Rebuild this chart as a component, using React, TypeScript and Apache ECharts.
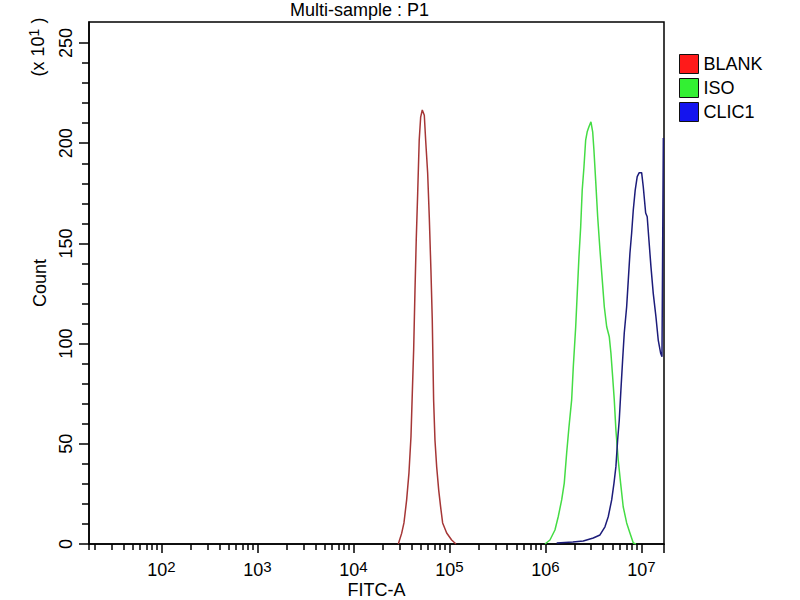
import React, { useEffect, useRef } from "react";
import * as echarts from "echarts";

const FONT = "'Liberation Sans', Arial, Helvetica, sans-serif";

// Axis ranges (x in log10 of FITC-A intensity, y in counts x10^1)
const xMin = 1.245;
const xMax = 7.235;
const yMin = 0;
const yMax = 260.5;

const xMajorExponents = [2, 3, 4, 5, 6, 7];
const yMajorTicks = [0, 50, 100, 150, 200, 250];
const yMinorTicks = [10, 20, 30, 40, 60, 70, 80, 90, 110, 120, 130, 140, 160, 170, 180, 190, 210, 220, 230, 240];

const seriesNames = ["BLANK", "ISO", "CLIC1"];
const lineColors = ["#a53636", "#44dc44", "#1c1c7a"];
const legendColors = ["#ff1a1a", "#33f033", "#1414ee"];

// BLANK histogram
const blankLogX = [4.467, 4.502, 4.526, 4.554, 4.578, 4.599, 4.613, 4.627, 4.641, 4.654, 4.669, 4.685, 4.700, 4.717, 4.738, 4.752, 4.773, 4.790, 4.807, 4.821, 4.835, 4.849, 4.867, 4.888, 4.908, 4.929, 4.971, 5.023, 5.068];
const blankCount = [0, 5.3, 10.5, 22, 35.4, 53.4, 75.3, 96.8, 126.7, 151.7, 175, 201.6, 213, 216.6, 214, 201.6, 185, 163, 136.7, 111.8, 71.9, 51.9, 38.4, 26.9, 18.5, 10.5, 5.5, 2, 0];

// ISO histogram
const isoLogX = [5.995, 6.047, 6.099, 6.133, 6.169, 6.196, 6.221, 6.245, 6.273, 6.290, 6.315, 6.328, 6.349, 6.367, 6.383, 6.401, 6.419, 6.435, 6.453, 6.474, 6.492, 6.505, 6.523, 6.544, 6.568, 6.592, 6.613, 6.638, 6.665, 6.682, 6.700, 6.717, 6.734, 6.758, 6.783, 6.810, 6.846, 6.880, 6.915, 6.943];
const isoCount = [0, 2, 7, 13.6, 22, 30.4, 45.4, 58.4, 71.9, 88.3, 108.3, 121.8, 143.2, 158.2, 176.6, 188, 201.6, 205.7, 208.2, 210.7, 205.7, 196.6, 181.6, 163.3, 146.7, 131.7, 118.4, 108.4, 103.4, 95.3, 83.5, 71.9, 56.9, 41.9, 30.4, 18.6, 10.5, 5.5, 0.5, 0];

// CLIC1 histogram (last bin piles up at the top of the scale)
const clicLogX = [6.117, 6.286, 6.394, 6.498, 6.568, 6.620, 6.654, 6.690, 6.714, 6.734, 6.752, 6.769, 6.786, 6.804, 6.821, 6.846, 6.863, 6.880, 6.898, 6.915, 6.935, 6.956, 6.977, 7.002, 7.019, 7.044, 7.060, 7.078, 7.099, 7.123, 7.151, 7.175, 7.200, 7.214, 7.228];
const clicCount = [0.5, 1, 1.5, 3, 4.5, 8.6, 13.6, 22, 30.4, 38.6, 51.9, 61.9, 76.8, 91.8, 105.3, 118.4, 131.7, 145, 155.2, 166.7, 176.6, 183.3, 185.3, 185.3, 178.3, 165.2, 163.3, 151.7, 138.4, 125.1, 113.4, 101.8, 95.2, 93.5, 202.6];

const xData = [blankLogX, isoLogX, clicLogX];
const yData = [blankCount, isoCount, clicCount];

function minorLogTicks(): number[] {
  const out: number[] = [xMin + 0.002];
  for (let d = 1; d <= 7; d++) {
    for (let k = 2; k <= 9; k++) {
      const v = d + Math.log10(k);
      if (v > xMin + 0.01 && v < xMax) out.push(v);
    }
  }
  return out;
}

export default function App() {
  const ref = useRef<HTMLDivElement>(null);

  useEffect(() => {
    if (!ref.current) return;
    const chart = echarts.init(ref.current, undefined, { renderer: "svg" });

    const series = seriesNames.map((name, i) => ({
      name,
      type: "line",
      xAxisIndex: 0,
      yAxisIndex: 0,
      symbol: "none",
      data: xData[i].map((x, j) => [x, yData[i][j]]),
      lineStyle: { color: lineColors[i], width: 1.5 },
      itemStyle: { color: lineColors[i] },
    }));

    const axisLine = { show: true, onZero: false, lineStyle: { color: "#000", width: 1.5 } };

    chart.setOption({
      animation: false,
      backgroundColor: "#fff",
      textStyle: { fontFamily: FONT },
      title: {
        text: "Multi-sample : P1",
        left: 290,
        top: 1,
        padding: 0,
        textStyle: { fontSize: 18, fontWeight: "normal", color: "#000", fontFamily: FONT, lineHeight: 18 },
      },
      legend: {
        orient: "vertical",
        left: 679,
        top: 54,
        padding: 0,
        itemWidth: 19,
        itemHeight: 19,
        itemGap: 4,
        icon: "rect",
        textStyle: { fontSize: 18, color: "#000", fontFamily: FONT },
        data: seriesNames.map((name, i) => ({
          name,
          itemStyle: { color: legendColors[i], borderColor: "#111", borderWidth: 1 },
        })),
      },
      grid: {
        left: 89,
        right: 136,
        top: 22,
        bottom: 56,
        containLabel: false,
        outerBoundsMode: "none",
        show: true,
        borderColor: "#000",
        borderWidth: 1.5,
        backgroundColor: "transparent",
      },
      xAxis: [
        {
          type: "value",
          min: xMin,
          max: xMax,
          position: "bottom",
          name: "FITC-A",
          nameLocation: "middle",
          nameGap: 37,
          nameMoveOverlap: false,
          nameTextStyle: { fontSize: 18, color: "#000", fontFamily: FONT, lineHeight: 17 },
          axisLine,
          splitLine: { show: false },
          axisTick: {
            show: true,
            length: 9,
            customValues: [...xMajorExponents, xMax - 0.002],
            lineStyle: { color: "#000", width: 1.5 },
          },
          axisLabel: {
            show: true,
            customValues: xMajorExponents,
            margin: 15,
            formatter: (v: number) => `{b|10}{s|${Math.round(v)}}`,
            rich: {
              b: { fontSize: 18, color: "#000", fontFamily: FONT, lineHeight: 22 },
              s: { fontSize: 15, color: "#000", fontFamily: FONT, verticalAlign: "top", lineHeight: 12 },
            },
          },
        },
        {
          type: "value",
          min: xMin,
          max: xMax,
          position: "bottom",
          axisLine: { show: false, onZero: false },
          splitLine: { show: false },
          axisLabel: { show: false },
          axisTick: {
            show: true,
            length: 6,
            customValues: minorLogTicks(),
            lineStyle: { color: "#000", width: 1.5 },
          },
        },
      ],
      yAxis: [
        {
          type: "value",
          min: yMin,
          max: yMax,
          position: "left",
          name: "Count",
          nameLocation: "middle",
          nameGap: 40,
          nameMoveOverlap: false,
          nameRotate: 90,
          nameTextStyle: { fontSize: 18, color: "#000", fontFamily: FONT },
          axisLine,
          splitLine: { show: false },
          axisTick: {
            show: true,
            length: 10,
            customValues: yMajorTicks,
            lineStyle: { color: "#000", width: 1.5 },
          },
          axisLabel: {
            show: true,
            customValues: yMajorTicks,
            rotate: 90,
            margin: 14,
            fontSize: 18,
            color: "#000",
            fontFamily: FONT,
          },
        },
        {
          type: "value",
          min: yMin,
          max: yMax,
          position: "left",
          axisLine: { show: false, onZero: false },
          splitLine: { show: false },
          axisLabel: { show: false },
          axisTick: {
            show: true,
            length: 7,
            customValues: yMinorTicks,
            lineStyle: { color: "#000", width: 1.5 },
          },
        },
      ],
      graphic: [
        {
          type: "text",
          x: 38,
          y: 47,
          rotation: Math.PI / 2,
          style: {
            text: "{a|(x 10}{s|1}{a| )}",
            align: "center",
            verticalAlign: "middle",
            fill: "#000",
            rich: {
              a: { fontSize: 18, fontFamily: FONT, fill: "#000", lineHeight: 22 },
              s: { fontSize: 14, fontFamily: FONT, fill: "#000", verticalAlign: "top", lineHeight: 12 },
            },
          },
        },
      ],
      series,
    });

    return () => chart.dispose();
  }, []);

  return (
    <div
      ref={ref}
      style={{ position: "fixed", left: 0, top: 0, width: 800, height: 600, background: "#fff" }}
    />
  );
}
